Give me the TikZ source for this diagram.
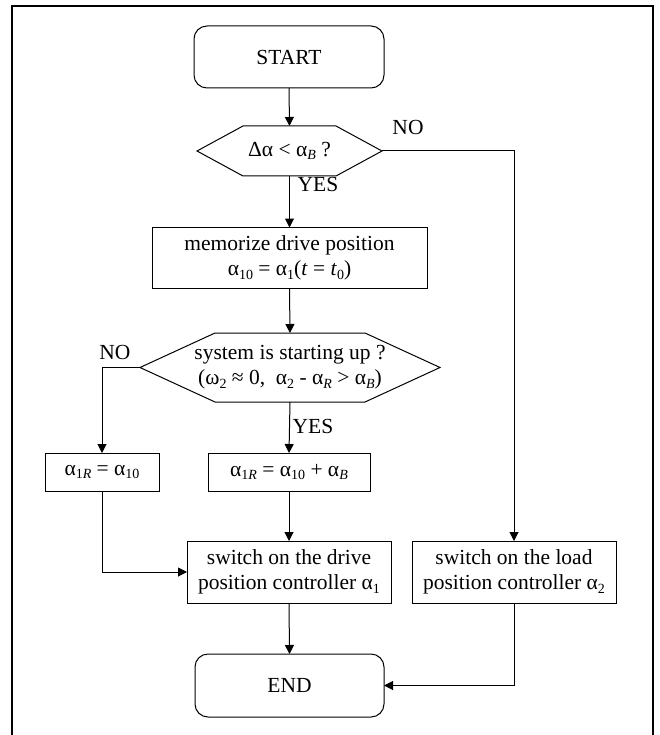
\documentclass[tikz,border=0pt]{standalone}
\usepackage{fontspec}
\setmainfont{Liberation Serif}
\usetikzlibrary{arrows.meta}
\newcommand\sbs[1]{\raisebox{-0.35ex}{\fontsize{14}{14}\selectfont #1}}
\tikzset{
  every node/.style={font=\fontsize{21.5}{25}\selectfont},
  base/.style={inner sep=0pt, outer sep=0pt, align=center},
  procbox/.style={base, draw, line width=1pt},
  termbox/.style={base, draw, line width=1pt, rounded corners=13pt, minimum width=190pt, minimum height=62pt},
  hexnode/.style={base},
  hexline/.style={line width=1pt},
  lbl/.style={inner sep=0pt},
  arr/.style={line width=1pt, -{Triangle[length=9pt,width=9pt]}},
  ln/.style={line width=1pt},
}
\begin{document}
\begin{tikzpicture}[x=1pt,y=-1pt]
\useasboundingbox (0,0) rectangle (659,735);
\begin{scope}
\clip (0,0) rectangle (659,735);
\draw[line width=2.5pt] (12,760) -- (12,6) -- (653,6) -- (653,760);
\end{scope}

\node[termbox] (start) at (289,57) {START};
\node[hexnode, minimum width=185pt, minimum height=50pt] (h1) at (289.5,151) {Δα < α\sbs{\textit{B}} ?};
\draw[hexline] (h1.west) -- ([xshift=46pt]h1.north west) -- ([xshift=-46pt]h1.north east) -- (h1.east) -- ([xshift=-46pt]h1.south east) -- ([xshift=46pt]h1.south west) -- cycle;

\node[procbox, minimum width=275pt, minimum height=61pt] (mem) at (289.5,258) {memorize drive position\\α\sbs{10} = α\sbs{1}(\textit{t} = \textit{t}\sbs{0})};

\node[hexnode, minimum width=300pt, minimum height=69pt] (h2) at (290,367.5) {system is starting up ?\\(ω\sbs{2} ≈ 0,\ \ α\sbs{2} - α\sbs{\textit{R}} > α\sbs{\textit{B}})};
\draw[hexline] (h2.west) -- ([xshift=75pt]h2.north west) -- ([xshift=-75pt]h2.north east) -- (h2.east) -- ([xshift=-75pt]h2.south east) -- ([xshift=75pt]h2.south west) -- cycle;

\node[procbox, minimum width=114pt, minimum height=38pt] (bl) at (102,472) {α\sbs{1\textit{R}} = α\sbs{10}};
\node[procbox, minimum width=162pt, minimum height=38pt] (bm) at (289,472) {α\sbs{1\textit{R}} = α\sbs{10} + α\sbs{\textit{B}}};

\node[procbox, minimum width=204pt, minimum height=62pt] (sw) at (289,572) {switch on the drive\\position controller α\sbs{1}};
\node[procbox, minimum width=204pt, minimum height=62pt] (ld) at (514,572) {switch on the load\\position controller α\sbs{2}};

\node[termbox, minimum width=189pt, minimum height=63pt] (end) at (289.5,685.5) {END};

\node[lbl] (no1) at (408,127) {NO};
\node[lbl] (yes1) at (318,184) {YES};
\node[lbl] (no2) at (115,352) {NO};
\node[lbl] (yes2) at (313,426) {YES};

\draw[arr] (start.south) -- (h1.north);
\draw[arr] (h1.east) -| (ld.north);
\draw[arr] (h1.south) -- (mem.north);
\draw[arr] (mem.south) -- (h2.north);
\draw[arr] (h2.west) -| (bl.north);
\draw[arr] (h2.south) -- (bm.north);
\draw[arr] (bl.south) |- (sw.west);
\draw[arr] (bm.south) -- (sw.north);
\draw[arr] (sw.south) -- (end.north);
\draw[arr] (ld.south) |- (end.east);
\end{tikzpicture}
\end{document}
